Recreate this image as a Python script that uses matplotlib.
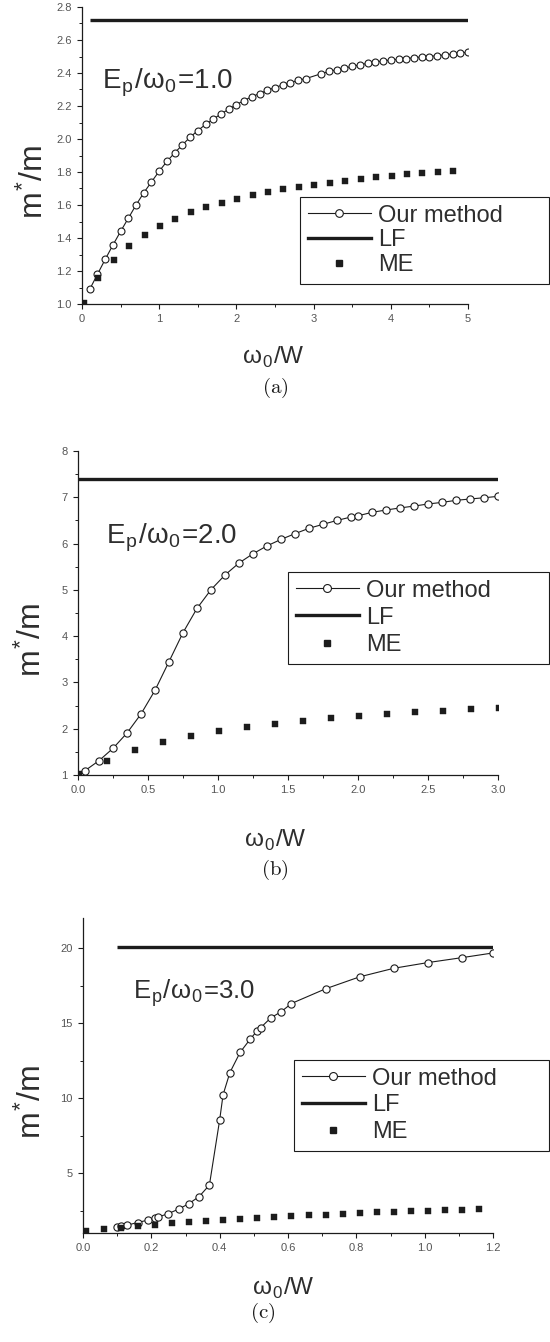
import matplotlib
matplotlib.use("Agg")
import matplotlib.pyplot as plt
from matplotlib.lines import Line2D
from matplotlib.ticker import MultipleLocator

plt.rcParams['font.family'] = ['Liberation Sans', 'DejaVu Sans']
plt.rcParams['mathtext.fontset'] = 'cm'

# ---------------- data ----------------
a_our_x = [0.1, 0.2, 0.3, 0.4, 0.5, 0.6, 0.7, 0.8, 0.9, 1.0,
           1.1, 1.2, 1.3, 1.4, 1.5, 1.6, 1.7, 1.8, 1.9, 2.0,
           2.1, 2.2, 2.3, 2.4, 2.5, 2.6, 2.7, 2.8, 2.9,
           3.1, 3.2, 3.3, 3.4, 3.5, 3.6, 3.7, 3.8, 3.9, 4.0,
           4.1, 4.2, 4.3, 4.4, 4.5, 4.6, 4.7, 4.8, 4.9, 5.0]
a_our_y = [1.089, 1.18, 1.27, 1.357, 1.44, 1.52, 1.60, 1.674, 1.74, 1.805,
           1.864, 1.916, 1.964, 2.011, 2.051, 2.088, 2.12, 2.152, 2.18, 2.209,
           2.233, 2.257, 2.275, 2.295, 2.312, 2.328, 2.342, 2.356, 2.366,
           2.396, 2.41, 2.42, 2.43, 2.44, 2.45, 2.459, 2.467, 2.473, 2.479,
           2.483, 2.487, 2.493, 2.497, 2.50, 2.505, 2.51, 2.515, 2.52, 2.527]
a_me_x = [0.02, 0.21, 0.41, 0.61, 0.81, 1.01, 1.21, 1.41, 1.61, 1.81,
          2.01, 2.21, 2.41, 2.61, 2.81, 3.01, 3.21, 3.41, 3.61, 3.81,
          4.01, 4.21, 4.41, 4.61, 4.81]
a_me_y = [1.008, 1.155, 1.266, 1.351, 1.418, 1.472, 1.517, 1.555, 1.585, 1.613,
          1.638, 1.66, 1.676, 1.694, 1.708, 1.724, 1.736, 1.747, 1.757, 1.767,
          1.775, 1.785, 1.791, 1.799, 1.805]
a_lf_x = [0.1, 5.0]
a_lf_y = [2.72, 2.72]

b_our_x = [0.05, 0.15, 0.25, 0.35, 0.45, 0.55, 0.65, 0.75, 0.85, 0.95,
           1.05, 1.15, 1.25, 1.35, 1.45, 1.55, 1.65, 1.75, 1.85, 1.95,
           2.0, 2.1, 2.2, 2.3, 2.4, 2.5, 2.6, 2.7, 2.8, 2.9, 3.0]
b_our_y = [1.094, 1.31, 1.576, 1.907, 2.318, 2.83, 3.45, 4.075, 4.60, 5.004,
           5.321, 5.58, 5.78, 5.95, 6.09, 6.214, 6.33, 6.416, 6.50, 6.574,
           6.60, 6.675, 6.725, 6.77, 6.81, 6.855, 6.89, 6.934, 6.963, 6.99, 7.02]
b_me_x = [0.01, 0.21, 0.41, 0.61, 0.81, 1.01, 1.21, 1.41, 1.61, 1.81,
          2.01, 2.21, 2.41, 2.61, 2.81, 3.01]
b_me_y = [1.015, 1.31, 1.533, 1.706, 1.843, 1.944, 2.037, 2.109, 2.174, 2.232,
          2.275, 2.318, 2.354, 2.39, 2.419, 2.448]
b_lf_x = [0.0, 3.0]
b_lf_y = [7.39, 7.39]

c_our_x = [0.10, 0.11, 0.13, 0.16, 0.19, 0.21, 0.22, 0.25, 0.28, 0.31,
           0.34, 0.37, 0.40, 0.41, 0.43, 0.46, 0.49, 0.51, 0.52, 0.55,
           0.58, 0.61, 0.71, 0.81, 0.91, 1.01, 1.11, 1.2]
c_our_y = [1.37, 1.45, 1.53, 1.70, 1.86, 1.97, 2.06, 2.30, 2.59, 2.96,
           3.43, 4.2, 8.54, 10.22, 11.7, 13.05, 13.94, 14.49, 14.69, 15.35,
           15.75, 16.3, 17.28, 18.08, 18.65, 19.03, 19.36, 19.67]
c_me_x = [0.01, 0.06, 0.11, 0.16, 0.21, 0.26, 0.31, 0.36, 0.41, 0.46,
          0.51, 0.56, 0.61, 0.66, 0.71, 0.76, 0.81, 0.86, 0.91, 0.96,
          1.01, 1.06, 1.11, 1.16]
c_me_y = [1.15, 1.24, 1.35, 1.46, 1.55, 1.64, 1.73, 1.79, 1.86, 1.95,
          1.99, 2.08, 2.12, 2.19, 2.23, 2.28, 2.32, 2.39, 2.43, 2.46,
          2.50, 2.52, 2.54, 2.59]
c_lf_x = [0.1, 1.2]
c_lf_y = [20.07, 20.07]

series_labels = ['Our method', 'LF', 'ME']
ratio_texts = ['1.0', '2.0', '3.0']
captions = ['(a)', '(b)', '(c)']

# ---------------- figure ----------------
W, H = 550, 1342
fig = plt.figure(figsize=(W / 100, H / 100), dpi=100)

def fx(px):
    return px / W

def fy(py):
    return 1 - py / H

INK = '#1c1c1c'
GREY = '#555555'
TXT = '#2e2e2e'

panels = [
    dict(box=(82, 7, 468, 304), xlim=(0, 5), ylim=(1.0, 2.8),
         xmaj=1, xmin=0.5, ymaj=0.2, ymin=0.1, xfmt='{:.0f}', yfmt='{:.1f}',
         our=(a_our_x, a_our_y), me=(a_me_x, a_me_y), lf=(a_lf_x, a_lf_y),
         ms_o=5.0, ms_s=4.2,
         leg=(300, 197, 549, 297), lsp=0.12, ann=(102, 88, 20),
         ylab=(34, 182), xlab=(273, 357), cap=(275, 388)),
    dict(box=(78, 451, 498, 775), xlim=(0, 3.0), ylim=(1, 8),
         xmaj=0.5, xmin=0.25, ymaj=1, ymin=0.5, xfmt='{:.1f}', yfmt='{:.0f}',
         our=(b_our_x, b_our_y), me=(b_me_x, b_me_y), lf=(b_lf_x, b_lf_y),
         ms_o=5.2, ms_s=4.4,
         leg=(288, 572, 549, 682), lsp=0.22, ann=(106, 543, 20),
         ylab=(32, 640), xlab=(275, 840), cap=(275, 870)),
    dict(box=(83, 918, 493, 1233), xlim=(0, 1.2), ylim=(1, 22),
         xmaj=0.2, xmin=0.1, ymaj=5, ymin=2.5, xfmt='{:.1f}', yfmt='{:.0f}',
         our=(c_our_x, c_our_y), me=(c_me_x, c_me_y), lf=(c_lf_x, c_lf_y),
         ms_o=5.2, ms_s=4.4,
         leg=(294, 1060, 549, 1167), lsp=0.2, ann=(133, 999, 18.5),
         ylab=(32, 1102), xlab=(283, 1288), cap=(263, 1313)),
]

for i, p in enumerate(panels):
    l, t, r, b = p['box']
    ax = fig.add_axes([fx(l), fy(b), fx(r) - fx(l), fy(t) - fy(b)])
    ax.set_xlim(*p['xlim'])
    ax.set_ylim(*p['ylim'])
    for s in ['top', 'right']:
        ax.spines[s].set_visible(False)
    for s in ['left', 'bottom']:
        ax.spines[s].set_linewidth(0.9)
        ax.spines[s].set_color(INK)

    ax.xaxis.set_major_locator(MultipleLocator(p['xmaj']))
    ax.xaxis.set_minor_locator(MultipleLocator(p['xmin']))
    ax.yaxis.set_major_locator(MultipleLocator(p['ymaj']))
    ax.yaxis.set_minor_locator(MultipleLocator(p['ymin']))
    xf, yf = p['xfmt'], p['yfmt']
    ax.xaxis.set_major_formatter(plt.FuncFormatter(lambda v, pos, f=xf: f.format(v)))
    ax.yaxis.set_major_formatter(plt.FuncFormatter(lambda v, pos, f=yf: f.format(v)))
    ax.tick_params(which='major', direction='out', length=3.5, width=0.8,
                   color=INK, labelsize=8, labelcolor=GREY, pad=4)
    ax.tick_params(which='minor', direction='out', length=2.2, width=0.7, color=INK)

    ax.plot(p['lf'][0], p['lf'][1], color=INK, lw=2.4, solid_capstyle='butt', zorder=2)
    ax.plot(p['our'][0], p['our'][1], color=INK, lw=0.8, marker='o',
            ms=p['ms_o'], mfc='white', mec=INK, mew=0.8, zorder=3)
    ax.plot(p['me'][0], p['me'][1], ls='none', marker='s', ms=p['ms_s'],
            mfc=INK, mec=INK, mew=0.3, zorder=3)

    handles = [
        Line2D([], [], color=INK, lw=0.8, marker='o', ms=p['ms_o'] + 0.5,
               mfc='white', mec=INK, mew=0.8),
        Line2D([], [], color=INK, lw=2.4),
        Line2D([], [], ls='none', marker='s', ms=p['ms_s'], mfc=INK, mec=INK),
    ]
    ll, lt, lr, lb = p['leg']
    leg = ax.legend(handles, series_labels, loc='upper left',
                    bbox_to_anchor=(fx(ll), fy(lb), fx(lr) - fx(ll), fy(lt) - fy(lb)),
                    bbox_transform=fig.transFigure, mode='expand',
                    borderaxespad=0, fontsize=17, frameon=True, fancybox=False,
                    edgecolor=INK, framealpha=1, borderpad=0.32,
                    labelspacing=p['lsp'], handlelength=2.7, handletextpad=0.3,
                    numpoints=1)
    leg.get_frame().set_linewidth(0.8)
    for txt in leg.get_texts():
        txt.set_color(TXT)

    # annotation E_p / omega_0 = value
    axx, axy, afs = p['ann']
    fig.text(fx(axx), fy(axy),
             r'E$_{\mathregular{p}}$/ω$_{\mathregular{0}}$=' + ratio_texts[i],
             fontsize=afs, color=TXT, ha='left', va='baseline')

    # axis labels
    yx, yy = p['ylab']
    fig.text(fx(yx), fy(yy), r'm$^{\mathregular{*}}$/m', rotation=90,
             fontsize=23, color=TXT, ha='center', va='center')
    xx, xy = p['xlab']
    fig.text(fx(xx), fy(xy), r'ω$_{\mathregular{0}}$/W', fontsize=17.5,
             color=TXT, ha='center', va='center')
    cx, cy = p['cap']
    fig.text(fx(cx), fy(cy), r'$\mathrm{' + captions[i] + '}$', fontsize=15,
             color='#1a1a1a', ha='center', va='center')

fig.savefig('out.png', dpi=100)
